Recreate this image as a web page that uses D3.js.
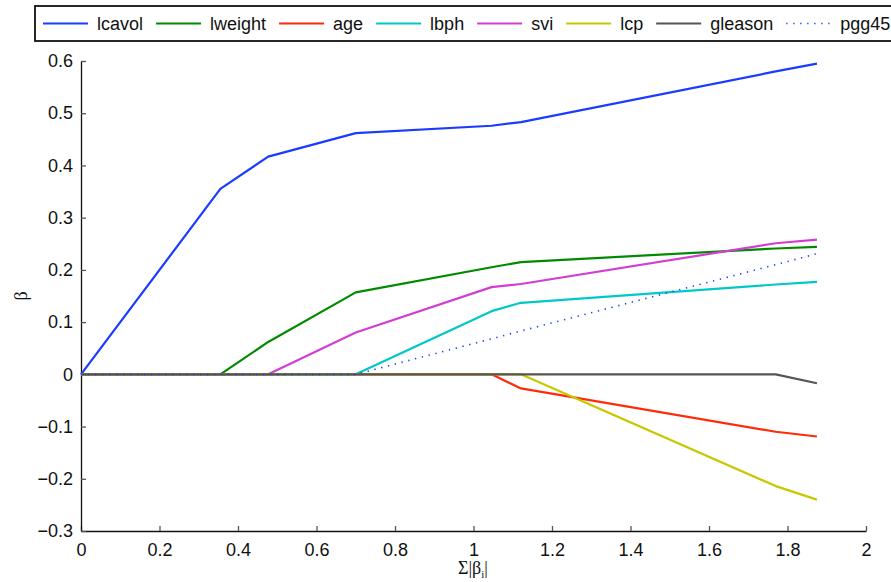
<!DOCTYPE html>
<html><head><meta charset="utf-8">
<script src="https://cdn.jsdelivr.net/npm/d3@7"></script>
<style>html,body{margin:0;padding:0;background:#fff;}svg{display:block;font-family:"Liberation Sans",Arial,sans-serif;}</style>
</head><body>
<svg id="chart" width="891" height="582"></svg>
<script>
const xVals   = [0, 0.355, 0.477, 0.700, 1.046, 1.121, 1.770, 1.875];
const lcavol  = [0, 0.355, 0.417, 0.462, 0.476, 0.483, 0.580, 0.595];
const lweight = [0, 0, 0.062, 0.157, 0.205, 0.215, 0.241, 0.244];
const age     = [0, 0, 0, 0, 0, -0.027, -0.110, -0.119];
const lbph    = [0, 0, 0, 0, 0.121, 0.137, 0.172, 0.177];
const svi     = [0, 0, 0, 0.080, 0.167, 0.173, 0.251, 0.258];
const lcp     = [0, 0, 0, 0, 0, 0, -0.214, -0.240];
const gleason = [0, 0, 0, 0, 0, 0, 0, -0.017];
const pgg45   = [0, 0, 0, 0, 0.068, 0.083, 0.210, 0.231];
const seriesNames = ["lcavol","lweight","age","lbph","svi","lcp","gleason","pgg45"];
const seriesValues = [lcavol, lweight, age, lbph, svi, lcp, gleason, pgg45];
const seriesColors = ["#1a3cff","#008a00","#ff2a0a","#00c8c8","#d23ed2","#c8c800","#555555","#1a3cff"];
const xTicks = [0,0.2,0.4,0.6,0.8,1,1.2,1.4,1.6,1.8,2];
const yTicks = [-0.3,-0.2,-0.1,0,0.1,0.2,0.3,0.4,0.5,0.6];

const svg = d3.select("#chart");
const L = 81, R = 866, T = 61, B = 531;
const x = d3.scaleLinear().domain([0, 2]).range([L, R]);
const y = d3.scaleLinear().domain([-0.3, 0.6]).range([B, T]);
const fmt = v => (v < 0 ? "\u2212" : "") + String(Math.abs(+v.toFixed(1)));

// axes
const xAxis = d3.axisBottom(x).tickValues(xTicks).tickSizeInner(-5).tickSizeOuter(0).tickPadding(12).tickFormat(fmt);
const yAxis = d3.axisLeft(y).tickValues(yTicks).tickSizeInner(-5).tickSizeOuter(0).tickPadding(8).tickFormat(fmt);
const gx = svg.append("g").attr("transform", `translate(0,${B})`).call(xAxis);
const gy = svg.append("g").attr("transform", `translate(${L},0)`).call(yAxis);
[gx, gy].forEach(g => {
  g.select(".domain").attr("stroke", "#111").attr("stroke-width", 1.3);
  g.selectAll(".tick line").attr("stroke", "#555").attr("stroke-width", 1.3);
  g.selectAll(".tick text").attr("fill", "#111").attr("font-size", 18).attr("font-family", "Liberation Sans, Arial, sans-serif");
});

// lines
const line = d3.line().x((d, i) => x(xVals[i])).y(d => y(d));
seriesValues.forEach((vals, k) => {
  const p = svg.append("path").datum(vals)
    .attr("d", line).attr("fill", "none")
    .attr("stroke", seriesColors[k]).attr("stroke-width", k === 7 ? 1.6 : 2.2)
    .attr("stroke-linejoin", "round");
  if (k === 7) p.attr("stroke-dasharray", "1.3,5.7");
});

// axis labels
const xl = svg.append("text").attr("x", 473).attr("y", 574).attr("text-anchor", "middle")
  .attr("font-size", 18).attr("font-family", "Liberation Serif, Times New Roman, serif").attr("fill", "#111");
xl.append("tspan").text("\u03A3|\u03B2");
xl.append("tspan").attr("font-size", 11).attr("dy", 4).text("i");
xl.append("tspan").attr("dy", -4).text("|");
svg.append("text").attr("transform", "translate(27,296) rotate(-90)").attr("text-anchor", "middle")
  .attr("font-size", 18).attr("font-family", "Liberation Serif, Times New Roman, serif").attr("fill", "#111").text("\u03B2");

// legend
const lg = svg.append("g");
lg.append("rect").attr("x", 35).attr("y", 6).attr("width", 880).attr("height", 35)
  .attr("fill", "#fff").attr("stroke", "#111").attr("stroke-width", 1.8);
let cx = 43;
seriesNames.forEach((name, k) => {
  const l = lg.append("line").attr("x1", cx).attr("x2", cx + 45).attr("y1", 23.5).attr("y2", 23.5)
    .attr("stroke", seriesColors[k]).attr("stroke-width", k === 7 ? 1.6 : 2.2);
  if (k === 7) l.attr("stroke-dasharray", "1.3,5.7");
  const t = lg.append("text").attr("x", cx + 54).attr("y", 30).attr("font-size", 18).attr("fill", "#111").text(name);
  cx += 54 + t.node().getComputedTextLength() + 13;
});
</script>
</body></html>
